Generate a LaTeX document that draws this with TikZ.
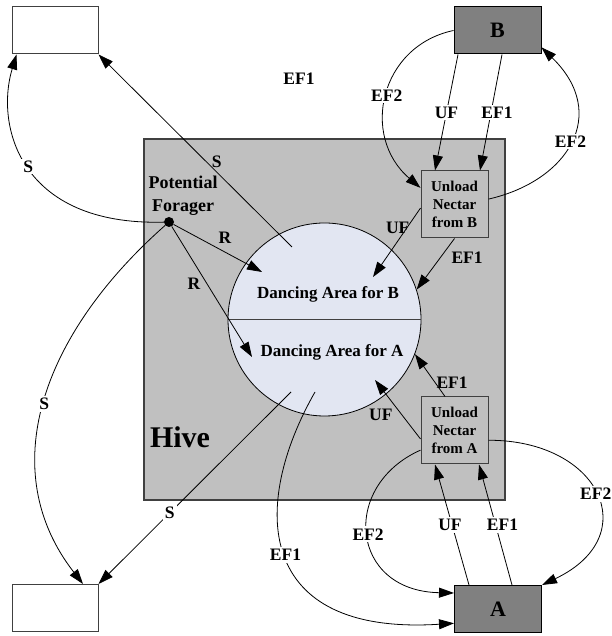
\documentclass[tikz,border=0pt]{standalone}
\usepackage{fontspec}
\setmainfont{Liberation Serif}
\usetikzlibrary{arrows.meta}

\definecolor{beeLine}{RGB}{0,0,0}
\definecolor{beeHiveLine}{RGB}{64,64,64}
\definecolor{beeHiveFill}{RGB}{192,192,192}
\definecolor{beeSiteFill}{RGB}{128,128,128}
\definecolor{beeDanceFill}{RGB}{226,230,242}

\tikzset{
  flow/.style={line width=0.8pt, draw=beeLine, -{Triangle[length=15pt, width=10pt]}},
  lbl/.style={font=\bfseries\fontsize{17.5}{21}\selectfont, inner sep=1pt},
  gap/.style={lbl, fill=white, inner sep=2pt},
  emptybox/.style={draw=beeHiveLine, line width=1pt, fill=white, minimum width=86pt, minimum height=47pt, inner sep=0pt},
  sitebox/.style={draw=beeLine, line width=1pt, fill=beeSiteFill, minimum width=87pt, minimum height=47pt, inner sep=0pt,
    font=\bfseries\fontsize{22}{26}\selectfont},
  unloadbox/.style={draw=beeHiveLine, line width=1pt, fill=beeHiveFill, minimum width=67pt, minimum height=67pt, inner sep=0pt,
    align=center, font=\bfseries\fontsize{15}{18}\selectfont},
}

\begin{document}
\begin{tikzpicture}[x=1pt, y=1pt]
  \useasboundingbox (0,0) rectangle (611,636);

  % hive and dancing floor
  \node[draw=beeHiveLine, line width=1.5pt, fill=beeHiveFill, minimum width=361pt, minimum height=361pt, inner sep=0pt] (hive) at (324.5,316.5) {};
  \node[font=\bfseries\fontsize{30}{34}\selectfont] (hivelbl) at (180,199) {Hive};
  \node[circle, draw=beeLine, line width=0.8pt, fill=beeDanceFill, minimum size=193pt, inner sep=0pt] (dance) at (324.5,316.5) {};
  \draw[line width=1pt, draw=beeHiveLine] (dance.west) -- (dance.east);
  \node[lbl, font=\bfseries\fontsize{17}{20}\selectfont] (danceB) at (328,342) {Dancing Area for B};
  \node[lbl, font=\bfseries\fontsize{17}{20}\selectfont] (danceA) at (332,284) {Dancing Area for A};

  % boxes
  \node[emptybox] (topbox) at (55,605.5) {};
  \node[emptybox] (botbox) at (55,28) {};
  \node[sitebox] (boxB) at (497.5,605.5) {B};
  \node[sitebox] (boxA) at (498,27) {A};
  \node[unloadbox] (unloadB) at (454.5,431.5) {Unload\\Nectar\\from B};
  \node[unloadbox] (unloadA) at (454.5,205.5) {Unload\\Nectar\\from A};

  % forager
  \node[circle, fill=beeLine, minimum size=10pt, inner sep=0pt] (forager) at (169,414) {};
  \node[lbl, align=center, font=\bfseries\fontsize{18}{23}\selectfont] (foragerlbl) at (183,440) {Potential\\Forager};
  \node[lbl] (stray) at (299,557) {EF1};

  % points inside the dancing floor
  \coordinate (sB) at (292,389);
  \coordinate (sA) at (291,244);
  \coordinate (efA) at (315,244);
  \coordinate (rB) at (262,364);
  \coordinate (rA) at (252,279);
  \coordinate (ufB) at (373,359);
  \coordinate (ufA) at (375,256);

  % scouting
  \draw[flow] (sB) -- node[lbl, pos=.44, xshift=10pt] {S} (topbox.south east);
  \draw[flow] (forager) .. controls (20,410) and (-5,510) .. node[gap, pos=.5] {S} ([xshift=5pt]topbox.south west);
  \draw[flow] (forager) .. controls (40,300) and (-5,165) .. node[gap, pos=.5] {S} ([xshift=28pt]botbox.north);
  \draw[flow] (sA) -- node[gap, pos=.63] {S} (botbox.north east);

  % recruitment
  \draw[flow] (forager) -- node[lbl, pos=.58, yshift=14pt] {R} (rB);
  \draw[flow] (forager) -- node[lbl, pos=.44, xshift=-13pt] {R} (rA);

  % site B
  \draw[flow] (unloadB.186) -- node[lbl, pos=.29, xshift=-9pt] {UF} (ufB);
  \draw[flow] (unloadB.south) -- node[lbl, pos=.38, xshift=27pt] {EF1} (dance.18.6);
  \draw[flow] ([xshift=-39.5pt]boxB.south) -- node[gap, pos=.5] {UF} ([xshift=-19.5pt]unloadB.north);
  \draw[flow] ([xshift=4.5pt]boxB.south) -- node[gap, pos=.5, xshift=6pt] {EF1} ([xshift=25.5pt]unloadB.north);
  \draw[flow] (boxB.west) .. controls (380,590) and (360,500) .. node[gap, pos=.5] {EF2} (unloadB.154);
  \draw[flow] (unloadB.9) .. controls (568,455) and (610,522) .. node[gap, pos=.5] {EF2} (boxB.-21);

  % site A
  \draw[flow] ([xshift=-9.5pt]unloadA.north) -- node[lbl, pos=.33, xshift=17pt] {EF1} (dance.-21);
  \draw[flow] (unloadA.194) -- node[lbl, pos=.41, xshift=-21pt] {UF} (ufA);
  \draw[flow] ([xshift=-29pt]boxA.north) -- node[gap, pos=.5, xshift=-2pt] {UF} ([xshift=-19.5pt]unloadA.south);
  \draw[flow] ([xshift=14pt]boxA.north) -- node[gap, pos=.5, xshift=7pt] {EF1} ([xshift=24.5pt]unloadA.south);
  \draw[flow] (unloadA.-16) .. controls (600,196) and (645,100) .. node[gap, pos=.5] {EF2} (boxA.north east);
  \draw[flow] (unloadA.210) .. controls (340,150) and (350,45) .. node[gap, pos=.5] {EF2} (boxA.160);
  \draw[flow] (efA) .. controls (250,130) and (255,0) .. node[gap, pos=.5] {EF1} (boxA.198);
\end{tikzpicture}
\end{document}
